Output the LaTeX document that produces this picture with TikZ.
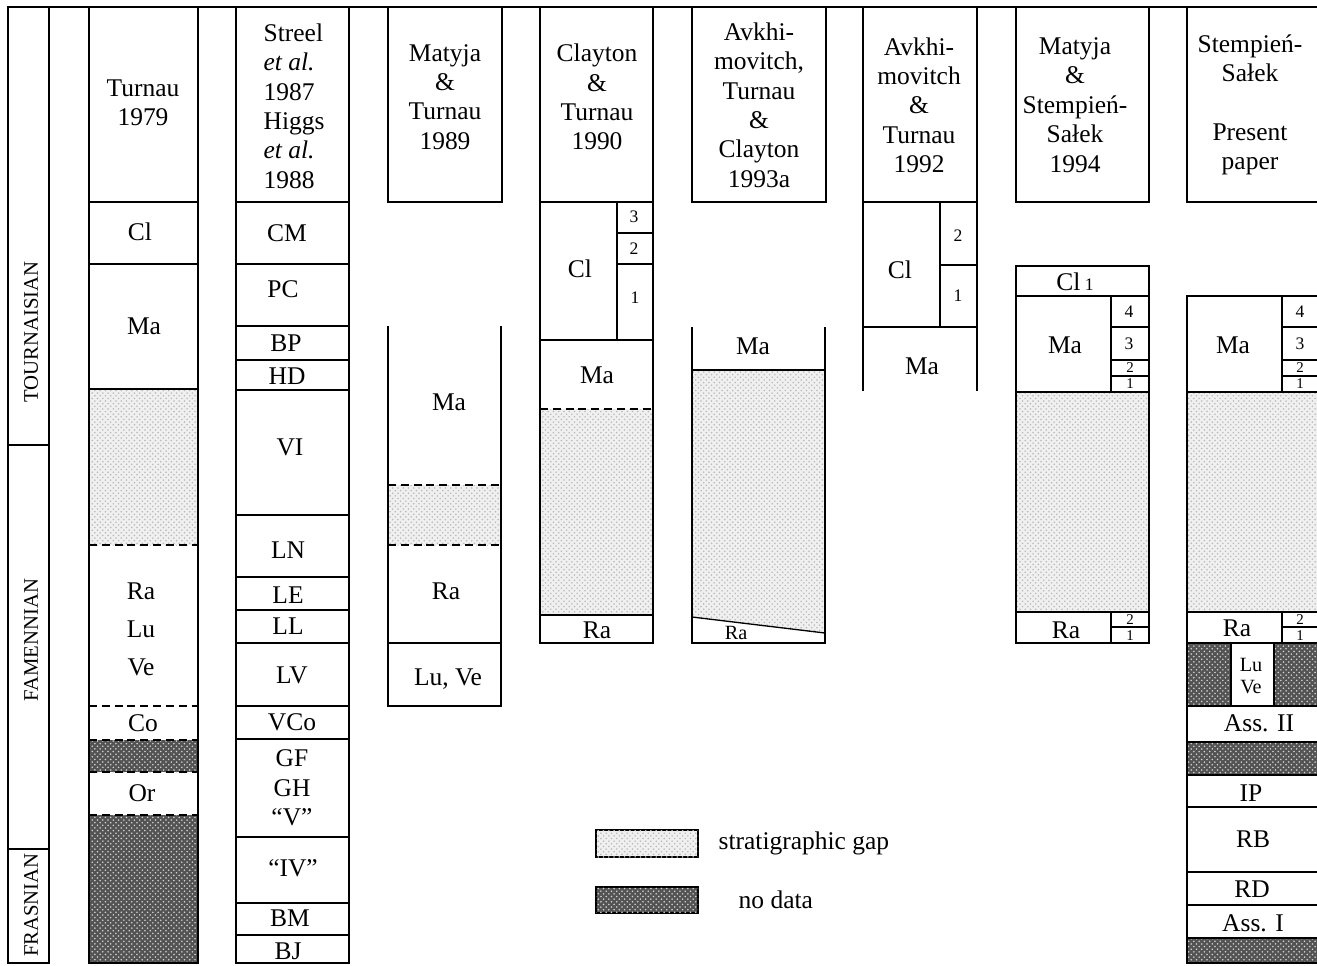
\documentclass[tikz,border=0pt]{standalone}
\usepackage{fontspec}
\setmainfont{Liberation Serif}
\usepackage{tikz}
\usetikzlibrary{patterns}

\tikzset{
  unit/.style={font=\fontsize{14.5}{16.7}\selectfont, align=center, inner sep=0pt},
  subno/.style={font=\fontsize{10}{10}\selectfont, inner sep=0pt},
  tinyno/.style={font=\fontsize{8.5}{8.5}\selectfont, inner sep=0pt},
  stage/.style={rotate=90, font=\fontsize{11.8}{12}\selectfont, inner sep=0pt},
  brk/.style={dash pattern=on 4.5pt off 2.8pt},
  gapfill/.style={fill=gray!12, postaction={pattern=crosshatch dots, pattern color=gray!55}},
  nodata/.style={fill=gray!65!black, postaction={pattern=crosshatch dots, pattern color=gray!35}},
}

\begin{document}
\begin{tikzpicture}[x=0.02cm, y=-0.02cm, line width=0.75pt, every node/.style={unit}]
\useasboundingbox (0,0) rectangle (1317,965);

% stages
\draw (8,7) -- (1320,7);
\draw (8,7) rectangle (49,963);
\draw (8,445) -- (49,445);
\draw (8,849) -- (49,849);
\node [stage] at (31,332)(tou){TOURNAISIAN};
\node [stage] at (31,640)(fam){FAMENNIAN};
\node [stage] at (31,905)(fra){FRASNIAN};

% Turnau 1979
\fill [gapfill] (89,389) rectangle (198,545);
\fill [nodata] (89,740) rectangle (198,772);
\fill [nodata] (89,815) rectangle (198,963);
\draw (89,7) rectangle (198,963);
\foreach \y in {202,264,389} \draw (89,\y) -- (198,\y);
\foreach \y in {545,706,740,772,815} \draw [brk] (89,\y) -- (198,\y);
\node at (143,103)(hdtur){Turnau\\1979};
\node at (140,232)(cl79){Cl};
\node at (144,326)(ma79){Ma};
\node at (141,591)(ra79){Ra};
\node at (141,629)(lu79){Lu};
\node at (141,667)(ve79){Ve};
\node at (143,723)(co79){Co};
\node at (142,793)(or79){Or};

% Streel et al. 1987, Higgs et al. 1988
\draw (236,7) rectangle (349,963);
\foreach \y in {202,264,326,360,390,515,577,610,643,706,739,837,903,935} \draw (236,\y) -- (349,\y);
\node [anchor=west, align=left] at (263,106)(hdstr){Streel\\\textit{et al.}\\1987\\Higgs\\\textit{et al.}\\1988};
\node at (287,233)(cm){CM};
\node at (283,289)(pc){PC};
\node at (286,343)(bp){BP};
\node at (287,376)(hd){HD};
\node at (290,447)(vi){VI};
\node at (288,550)(ln){LN};
\node at (288,595)(le){LE};
\node at (288,626)(ll){LL};
\node at (292,675)(lv){LV};
\node at (292,722)(vco){VCo};
\node at (292,788)(gf){GF\\GH\\“V”};
\node at (293,868)(iv){“IV”};
\node at (290,918)(bm){BM};
\node at (288,951)(bj){BJ};

% Matyja & Turnau 1989
\draw (388,7) rectangle (502,202);
\fill [gapfill] (388,485) rectangle (501,545);
\draw (388,326) -- (388,706) -- (501,706) -- (501,326);
\draw [brk] (388,485) -- (501,485);
\draw [brk] (388,545) -- (501,545);
\draw (388,643) -- (501,643);
\node at (445,97)(hdmt){Matyja\\\&\\Turnau\\1989};
\node at (449,402)(ma89){Ma};
\node at (446,591)(ra89){Ra};
\node at (448,679)(lv89){Lu, Ve};

% Clayton & Turnau 1990
\fill [gapfill] (540,409) rectangle (653,615);
\draw (540,7) rectangle (653,643);
\draw (540,202) -- (653,202);
\draw (617,202) -- (617,340);
\draw (617,233) -- (653,233);
\draw (617,264) -- (653,264);
\draw (540,340) -- (653,340);
\draw [brk] (540,409) -- (653,409);
\draw (540,615) -- (653,615);
\node at (597,97)(hdct){Clayton\\\&\\Turnau\\1990};
\node at (580,269)(cl90){Cl};
\node [subno] at (634,217)(cl90c){3};
\node [subno] at (634,249)(cl90b){2};
\node [subno] at (635,298)(cl90a){1};
\node at (597,375)(ma90){Ma};
\node at (597,630)(ra90){Ra};

% Avkhimovitch, Turnau & Clayton 1993a
\draw (692,7) rectangle (826,202);
\fill [gapfill] (692,370) -- (825,370) -- (825,633) -- (692,617) -- cycle;
\draw (692,327) -- (692,643) -- (825,643) -- (825,327);
\draw (692,370) -- (825,370);
\draw (692,617) -- (825,633);
\node at (759,105)(hdatc){Avkhi-\\movitch,\\Turnau\\\&\\Clayton\\1993a};
\node at (753,346)(ma93){Ma};
\node [font=\fontsize{11.5}{12}\selectfont] at (736,633)(ra93){Ra};

% Avkhimovitch & Turnau 1992
\draw (863,7) rectangle (977,202);
\draw (863,202) -- (863,391) (977,202) -- (977,391);
\draw (863,327) -- (977,327);
\draw (940,202) -- (940,327);
\draw (940,265) -- (977,265);
\node at (919,105)(hdat){Avkhi-\\movitch\\\&\\Turnau\\1992};
\node at (900,270)(cl92){Cl};
\node [subno] at (958,236)(cl92b){2};
\node [subno] at (958,296)(cl92a){1};
\node at (922,366)(ma92){Ma};

% Matyja & Stempien-Salek 1994
\draw (1016,7) rectangle (1149,202);
\fill [gapfill] (1016,392) rectangle (1149,612);
\draw (1016,266) rectangle (1149,643);
\foreach \y in {296,392,612} \draw (1016,\y) -- (1149,\y);
\draw (1111,296) -- (1111,392);
\foreach \y in {327,360,376} \draw (1111,\y) -- (1149,\y);
\draw (1111,612) -- (1111,643);
\draw (1111,627) -- (1149,627);
\node at (1075,105)(hdms){Matyja\\\&\\Stempień-\\Sałek\\1994};
\node at (1075,282)(cl94){Cl\,{\fontsize{10}{10}\selectfont 1}};
\node at (1065,345)(ma94){Ma};
\node [subno] at (1129,312)(ma94d){4};
\node [subno] at (1129,344)(ma94c){3};
\node [tinyno] at (1130,368)(ma94b){2};
\node [tinyno] at (1130,384)(ma94a){1};
\node at (1066,630)(ra94){Ra};
\node [tinyno] at (1130,620)(ra94b){2};
\node [tinyno] at (1130,636)(ra94a){1};

% present paper
\draw (1187,7) rectangle (1320,202);
\fill [gapfill] (1187,392) rectangle (1320,612);
\fill [nodata] (1187,643) rectangle (1231,706);
\fill [nodata] (1274,643) rectangle (1320,706);
\fill [nodata] (1187,742) rectangle (1320,775);
\fill [nodata] (1187,938) rectangle (1320,963);
\draw (1187,296) rectangle (1320,963);
\foreach \y in {392,612,643,706,742,775,807,872,905,938} \draw (1187,\y) -- (1320,\y);
\draw (1231,643) -- (1231,706) (1274,643) -- (1274,706);
\draw (1282,296) -- (1282,392);
\foreach \y in {327,360,376} \draw (1282,\y) -- (1320,\y);
\draw (1282,612) -- (1282,643);
\draw (1282,627) -- (1320,627);
\node at (1250,105)(hdss){Stempień-\\Sałek\\[16.7pt]Present\\paper};
\node at (1233,345)(mapp){Ma};
\node [subno] at (1300,312)(mappd){4};
\node [subno] at (1300,344)(mappc){3};
\node [tinyno] at (1300,368)(mappb){2};
\node [tinyno] at (1300,384)(mappa){1};
\node at (1237,628)(rapp){Ra};
\node [tinyno] at (1300,620)(rappb){2};
\node [tinyno] at (1300,636)(rappa){1};
\node [font=\fontsize{11.5}{12.5}\selectfont] at (1251,676)(lvpp){Lu\\Ve};
\node at (1259,723)(ass2){Ass. II};
\node at (1251,793)(ip){IP};
\node at (1253,839)(rb){RB};
\node at (1252,889)(rd){RD};
\node at (1253,923)(ass1){Ass. I};

% legend
\draw [gapfill] (596,830) rectangle (698,857);
\node [anchor=west] at (718,843)(lgap){stratigraphic gap};
\draw [nodata] (596,887) rectangle (698,913);
\node [anchor=west] at (738,900)(lnod){no data};
\end{tikzpicture}
\end{document}
